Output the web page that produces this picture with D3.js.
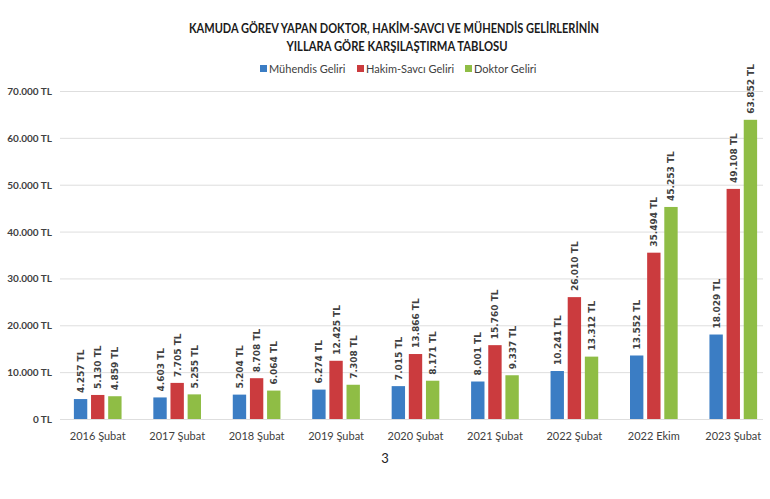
<!DOCTYPE html>
<html>
<head>
<meta charset="utf-8">
<script src="https://cdn.jsdelivr.net/npm/d3@7"></script>
<style>
  body { margin: 0; background: #fff; }
  svg { font-family: Lato, "Open Sans", sans-serif; }
</style>
</head>
<body>
<svg id="chart" width="770" height="499"></svg>
<script>
var categories = ['2016 Şubat', '2017 Şubat', '2018 Şubat', '2019 Şubat', '2020 Şubat',
                  '2021 Şubat', '2022 Şubat', '2022 Ekim', '2023 Şubat'];
var muhendis = [4257, 4603, 5204, 6274, 7015, 8001, 10241, 13552, 18029];
var hakim = [5130, 7705, 8708, 12425, 13866, 15760, 26010, 35494, 49108];
var doktor = [4859, 5255, 6064, 7308, 8171, 9337, 13312, 45253, 63852];
var seriesNames = ['Mühendis Geliri', 'Hakim-Savcı Geliri', 'Doktor Geliri'];
var colors = ['#3b7dc4', '#cb3b3e', '#8fbd45'];
var yTicks = [0, 10000, 20000, 30000, 40000, 50000, 60000, 70000];

var series = [muhendis, hakim, doktor];
var trFormat = d3.formatLocale({decimal: ',', thousands: '.', grouping: [3], currency: ['', ' TL']}).format(',d');

var svg = d3.select('#chart');
var padding = {left: 58, right: -3, top: 91, bottom: 80};
var chartArea = {width: 770 - padding.left - padding.right, height: 499 - padding.top - padding.bottom};

var xScale = d3.scaleBand().domain(categories).range([0, chartArea.width]).paddingInner(0).paddingOuter(0);
var inner = d3.scaleBand().domain([0, 1, 2]).range([xScale.bandwidth() * 0.2, xScale.bandwidth() * 0.8]).paddingInner(0.22);
var yScale = d3.scaleLinear().domain([0, 70000]).range([chartArea.height, 0]);

// title
var title = svg.append('g').attr('font-weight', 700).attr('font-size', 13).attr('fill', '#1a1a1a')
  .attr('text-anchor', 'middle');
title.append('text').attr('x', 394).attr('y', 33)
  .attr('textLength', 410).attr('lengthAdjust', 'spacingAndGlyphs')
  .text('KAMUDA GÖREV YAPAN DOKTOR, HAKİM-SAVCI VE MÜHENDİS GELİRLERİNİN');
title.append('text').attr('x', 397).attr('y', 51)
  .attr('textLength', 221).attr('lengthAdjust', 'spacingAndGlyphs')
  .text('YILLARA GÖRE KARŞILAŞTIRMA TABLOSU');

// legend
var legendX = [260, 357, 465];
var legend = svg.append('g').attr('font-size', 11).attr('fill', '#404040');
seriesNames.forEach(function(name, i) {
  legend.append('rect').attr('x', legendX[i]).attr('y', 65).attr('width', 7).attr('height', 7).attr('fill', colors[i]);
  legend.append('text').attr('x', legendX[i] + 9).attr('y', 73).text(name);
});

var chartGroup = svg.append('g').attr('transform', 'translate(' + padding.left + ',' + padding.top + ')');

// grid
chartGroup.append('g').attr('class', 'grid')
  .call(d3.axisLeft(yScale).tickValues(yTicks).tickSize(-(chartArea.width - 12)).tickFormat(''))
  .call(function(g) { g.select('.domain').remove(); })
  .call(function(g) { g.selectAll('line').attr('stroke', '#dedede').attr('transform', 'translate(2,0)'); });

// y labels
chartGroup.append('g').selectAll('text').data(yTicks).enter().append('text')
  .attr('x', -6).attr('y', function(d) { return yScale(d) + 4; })
  .attr('text-anchor', 'end').attr('font-size', 10).attr('font-weight', 700).attr('fill', '#404040')
  .text(function(d) { return trFormat(d) + ' TL'; });

// x labels
chartGroup.append('g').selectAll('text').data(categories).enter().append('text')
  .attr('x', function(d) { return xScale(d) + xScale.bandwidth() / 2; })
  .attr('y', chartArea.height + 21)
  .attr('text-anchor', 'middle').attr('font-size', 11).attr('fill', '#404040')
  .text(function(d) { return d; });

// bars
series.forEach(function(values, s) {
  var g = chartGroup.append('g');
  g.selectAll('rect').data(values).enter().append('rect')
    .attr('x', function(d, i) { return xScale(categories[i]) + inner(s); })
    .attr('y', function(d) { return yScale(d); })
    .attr('width', inner.bandwidth())
    .attr('height', function(d) { return chartArea.height - yScale(d); })
    .attr('fill', colors[s]);
  g.selectAll('text').data(values).enter().append('text')
    .attr('transform', function(d, i) {
      var cx = xScale(categories[i]) + inner(s) + inner.bandwidth() / 2 + 3.5;
      return 'translate(' + cx + ',' + (yScale(d) - 6) + ') rotate(-90)';
    })
    .attr('font-family', '"DejaVu Sans", Verdana, sans-serif')
    .attr('font-size', 9).attr('font-weight', 700).attr('fill', '#404040')
    .text(function(d) { return trFormat(d) + ' TL'; });
});

// page number
svg.append('text').attr('x', 385).attr('y', 463).attr('text-anchor', 'middle')
  .attr('font-size', 13).attr('fill', '#222').text('3');
</script>
</body>
</html>
